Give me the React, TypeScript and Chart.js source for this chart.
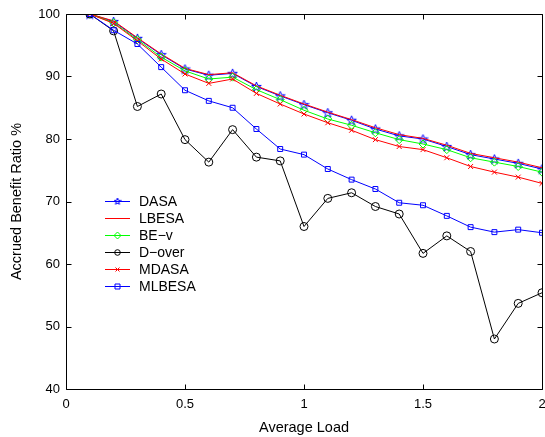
import React, { useEffect, useRef } from "react";
import { Chart, registerables } from "chart.js";

Chart.register(...registerables);

const loads = [0.1, 0.2, 0.3, 0.4, 0.5, 0.6, 0.7, 0.8, 0.9, 1.0, 1.1, 1.2, 1.3, 1.4, 1.5, 1.6, 1.7, 1.8, 1.9, 2.0];
const dasa = [100, 98.8, 96.1, 93.5, 91.2, 90.2, 90.5, 88.4, 86.9, 85.5, 84.2, 83.0, 81.6, 80.5, 80.0, 78.8, 77.5, 76.8, 76.1, 75.2];
const lbesa = [100, 98.9, 96.2, 93.6, 91.3, 90.3, 90.6, 88.5, 87.0, 85.6, 84.3, 83.1, 81.8, 80.7, 80.1, 79.0, 77.7, 77.0, 76.3, 75.4];
const bev = [100, 98.6, 95.9, 93.1, 90.9, 89.6, 89.9, 87.9, 86.3, 84.6, 83.2, 82.2, 81.0, 79.9, 79.2, 78.3, 77.0, 76.3, 75.6, 74.7];
const dover = [100, 97.3, 85.2, 87.2, 79.9, 76.3, 81.5, 77.1, 76.5, 66.0, 70.5, 71.4, 69.2, 68.0, 61.7, 64.5, 62.0, 48.0, 53.7, 55.4];
const mdasa = [100, 98.5, 95.7, 92.8, 90.4, 88.9, 89.6, 87.3, 85.6, 84.0, 82.6, 81.4, 79.9, 78.8, 78.3, 77.0, 75.6, 74.7, 73.9, 72.9];
const mlbesa = [100, 97.4, 95.2, 91.5, 87.8, 86.1, 85.0, 81.6, 78.4, 77.5, 75.2, 73.5, 72.0, 69.8, 69.4, 67.7, 65.9, 65.1, 65.5, 65.0];

const seriesNames = ["DASA", "LBESA", "BE\u2212v", "D\u2212over", "MDASA", "MLBESA"];
const xTicks = [0, 0.5, 1, 1.5, 2];
const yTicks = [40, 50, 60, 70, 80, 90, 100];

const FONT = "'Liberation Sans', Arial, Helvetica, sans-serif";

function makeStar(size: number, color: string): HTMLCanvasElement {
  const c = document.createElement("canvas");
  c.width = size;
  c.height = size;
  const g = c.getContext("2d")!;
  const cx = size / 2;
  const cy = size / 2 + 0.5;
  const R = size / 2 - 0.5;
  const r = R * 0.42;
  g.beginPath();
  for (let i = 0; i < 10; i++) {
    const ang = -Math.PI / 2 + (i * Math.PI) / 5;
    const rad = i % 2 === 0 ? R : r;
    const px = cx + rad * Math.cos(ang);
    const py = cy + rad * Math.sin(ang);
    if (i === 0) g.moveTo(px, py);
    else g.lineTo(px, py);
  }
  g.closePath();
  g.strokeStyle = color;
  g.lineWidth = 1;
  g.stroke();
  return c;
}

export default function App() {
  const ref = useRef<HTMLCanvasElement | null>(null);

  useEffect(() => {
    if (!ref.current) return;
    const star = makeStar(11, "#0000ff");
    const starSmall = makeStar(8, "#0000ff");
    const toPts = (arr: number[]) => arr.map((v, i) => ({ x: loads[i], y: v }));

    const specs = [
      { data: dasa, color: "#0000ff", style: star as any, r: 5 },
      { data: lbesa, color: "#ff0000", style: "circle", r: 0 },
      { data: bev, color: "#00ff00", style: "rectRot", r: 4 },
      { data: dover, color: "#000000", style: "circle", r: 4 },
      { data: mdasa, color: "#ff0000", style: "crossRot", r: 3.5 },
      { data: mlbesa, color: "#0000ff", style: "rect", r: 3.5 },
    ];

    const datasets = specs.map((s, i) => ({
      label: seriesNames[i],
      data: toPts(s.data),
      borderColor: s.color,
      backgroundColor: "rgba(0,0,0,0)",
      borderWidth: 1,
      pointStyle: s.style,
      pointRadius: s.r,
      pointBorderColor: s.color,
      pointBackgroundColor: "rgba(0,0,0,0)",
      pointBorderWidth: 1,
      tension: 0,
      order: specs.length - i,
    }));

    const framePlugin = {
      id: "frame",
      afterDatasetsDraw(chart: any) {
        const { ctx, chartArea } = chart;
        const { left, right, top, bottom } = chartArea;
        const xs = chart.scales.x;
        const ys = chart.scales.y;
        ctx.save();
        ctx.strokeStyle = "#000";
        ctx.lineWidth = 1;
        const L = Math.round(left) + 0.5;
        const R = Math.round(right) + 0.5;
        const T = Math.round(top) + 0.5;
        const B = Math.round(bottom) + 0.5;
        ctx.beginPath();
        ctx.rect(L, T, R - L, B - T);
        const tl = 5;
        xTicks.forEach((v) => {
          const px = Math.round(xs.getPixelForValue(v)) + 0.5;
          ctx.moveTo(px, B);
          ctx.lineTo(px, B - tl);
          ctx.moveTo(px, T);
          ctx.lineTo(px, T + tl);
        });
        yTicks.forEach((v) => {
          const py = Math.round(ys.getPixelForValue(v)) + 0.5;
          ctx.moveTo(L, py);
          ctx.lineTo(L + tl, py);
          ctx.moveTo(R, py);
          ctx.lineTo(R - tl, py);
        });
        ctx.stroke();
        ctx.restore();
      },
      afterDraw(chart: any) {
        const { ctx } = chart;
        ctx.save();
        const x0 = 105;
        const x1 = 130;
        const xm = 117.5;
        const tx = 139;
        const y0 = 201;
        const dy = 17;
        ctx.font = `14px ${FONT}`;
        ctx.textBaseline = "middle";
        ctx.textAlign = "left";
        specs.forEach((s, i) => {
          const y = Math.round(y0 + i * dy) + 0.5;
          ctx.strokeStyle = s.color;
          ctx.lineWidth = 1;
          ctx.beginPath();
          ctx.moveTo(x0, y);
          ctx.lineTo(x1, y);
          ctx.stroke();
          ctx.beginPath();
          if (i === 0) {
            ctx.drawImage(starSmall, xm - 4, y - 4.5);
          } else if (i === 2) {
            ctx.moveTo(xm, y - 3.5);
            ctx.lineTo(xm + 3.5, y);
            ctx.lineTo(xm, y + 3.5);
            ctx.lineTo(xm - 3.5, y);
            ctx.closePath();
            ctx.stroke();
          } else if (i === 3) {
            ctx.arc(xm, y, 2.8, 0, Math.PI * 2);
            ctx.stroke();
          } else if (i === 4) {
            ctx.moveTo(xm - 2, y - 2);
            ctx.lineTo(xm + 2, y + 2);
            ctx.moveTo(xm - 2, y + 2);
            ctx.lineTo(xm + 2, y - 2);
            ctx.stroke();
          } else if (i === 5) {
            ctx.rect(xm - 2.5, y - 2.5, 5, 5);
            ctx.stroke();
          }
          ctx.fillStyle = "#000";
          ctx.fillText(seriesNames[i], tx, y + 0.5);
        });
        ctx.restore();
      },
    };

    const chart = new Chart(ref.current, {
      type: "line",
      data: { datasets: datasets as any },
      options: {
        animation: false,
        responsive: true,
        maintainAspectRatio: false,
        layout: { autoPadding: false, padding: { top: 14, right: 3, left: 0, bottom: 0 } } as any,
        plugins: {
          legend: { display: false },
          tooltip: { enabled: false },
        },
        scales: {
          x: {
            type: "linear",
            min: 0,
            max: 2,
            afterBuildTicks: (scale: any) => {
              scale.ticks = xTicks.map((v) => ({ value: v }));
            },
            ticks: {
              color: "#000",
              font: { family: FONT, size: 13 },
              padding: 8,
              maxRotation: 0,
              autoSkip: false,
              callback: (v: any) => String(v),
            },
            grid: { display: false, drawTicks: false },
            border: { display: false },
            title: {
              display: true,
              text: "Average Load",
              color: "#000",
              font: { family: FONT, size: 14.5 },
              padding: { top: 0, bottom: 0 },
            },
            afterFit: (scale: any) => {
              scale.height = 48;
              scale.paddingLeft = 0;
              scale.paddingRight = 0;
            },
          },
          y: {
            type: "linear",
            min: 40,
            max: 100,
            afterBuildTicks: (scale: any) => {
              scale.ticks = yTicks.map((v) => ({ value: v }));
            },
            ticks: {
              color: "#000",
              font: { family: FONT, size: 13 },
              padding: 6,
              autoSkip: false,
              callback: (v: any) => String(v),
            },
            grid: { display: false, drawTicks: false },
            border: { display: false },
            title: {
              display: true,
              text: "Accrued Benefit Ratio %",
              color: "#000",
              font: { family: FONT, size: 14.5 },
              padding: { top: 8, bottom: 0 },
            },
            afterFit: (scale: any) => {
              scale.width = 66;
              scale.paddingTop = 0;
              scale.paddingBottom = 0;
            },
          },
        },
      },
      plugins: [framePlugin],
    });

    return () => chart.destroy();
  }, []);

  return (
    <div style={{ position: "fixed", left: 0, top: 0, width: 545, height: 437, background: "#fff" }}>
      <canvas ref={ref} />
    </div>
  );
}
